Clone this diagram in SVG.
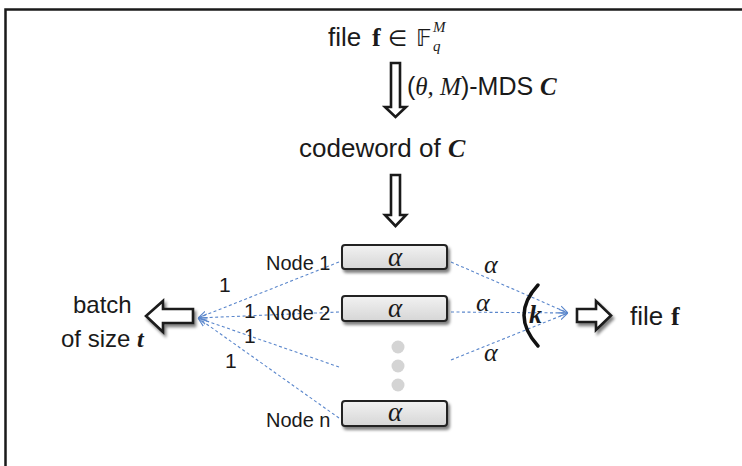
<svg xmlns="http://www.w3.org/2000/svg" width="742" height="466" viewBox="0 0 742 466">
<style>
.sans{font-family:"Liberation Sans","DejaVu Sans",sans-serif;fill:#1a1a1a}
.mi{font-family:"Liberation Serif","DejaVu Serif",serif;font-style:italic;fill:#1a1a1a}
.mb{font-family:"Liberation Serif","DejaVu Serif",serif;font-weight:bold;fill:#1a1a1a}
.mbi{font-family:"Liberation Serif","DejaVu Serif",serif;font-weight:bold;font-style:italic;fill:#1a1a1a}
.box{fill:url(#g);stroke:#222;stroke-width:2}
.conn{fill:none;stroke:#5b87cc;stroke-width:1.1;stroke-dasharray:3,2.5}
.block{fill:#fff;stroke:#1a1a1a;stroke-width:2.6;stroke-linejoin:miter}
.dot{fill:#d4d4d4}
</style>
<defs>
<linearGradient id="g" x1="0" y1="0" x2="0" y2="1">
<stop offset="0" stop-color="#f2f2f2"/>
<stop offset="1" stop-color="#d6d6d6"/>
</linearGradient>
<filter id="sh" x="-10%" y="-30%" width="130%" height="180%">
<feGaussianBlur in="SourceAlpha" stdDeviation="1.5"/>
<feOffset dx="2" dy="3" result="o"/>
<feComponentTransfer><feFuncA type="linear" slope="0.5"/></feComponentTransfer>
<feMerge><feMergeNode/><feMergeNode in="SourceGraphic"/></feMerge>
</filter>
<marker id="ah" viewBox="0 0 10 10" refX="10" refY="5" markerWidth="9" markerHeight="9" markerUnits="userSpaceOnUse" orient="auto">
<path d="M0,1 L10,5 L0,9" fill="none" stroke="#5b87cc" stroke-width="1.2"/>
</marker>
</defs>
<rect width="742" height="466" fill="#fff"/>
<!-- frame -->
<path d="M5.5,466 V9.5 H742" fill="none" stroke="#1a1a1a" stroke-width="2.5"/>

<!-- top text -->
<g id="file-top">
<text class="sans" x="328" y="46" font-size="26">file</text>
<text class="mb" x="372" y="46" font-size="26">f</text>
<text x="388" y="46" font-size="22" font-family="DejaVu Sans,sans-serif" fill="#1a1a1a">∈</text>
<text x="416" y="46" font-size="23" font-family="DejaVu Sans,sans-serif" fill="#1a1a1a">𝔽</text>
<text class="mi" x="433" y="32" font-size="15">M</text>
<text class="mi" x="433" y="51" font-size="15">q</text>
</g>

<g id="mds-label">
<text x="407" y="95" font-size="25"><tspan class="sans">(</tspan><tspan class="mi">θ</tspan><tspan class="mi">, M</tspan><tspan class="sans">)-MDS </tspan><tspan class="mbi">C</tspan></text>
</g>

<g id="codeword">
<text x="299" y="157" font-size="26"><tspan class="sans">codeword of </tspan><tspan class="mbi">C</tspan></text>
</g>

<!-- down arrows -->
<g id="arrow-down-1"><path class="block" d="M391,63 H400 V107 H406 L395.5,117 L385,107 H391 Z" stroke-width="1.7"/></g>
<g id="arrow-down-2"><path class="block" d="M391,175 H400 V215 H406 L395.5,226 L385,215 H391 Z" stroke-width="1.7"/></g>

<!-- connectors -->
<g id="connectors">
<line class="conn" x1="339" y1="262" x2="198" y2="318" marker-end="url(#ah)"/>
<line class="conn" x1="339" y1="312" x2="198" y2="318" marker-end="url(#ah)"/>
<line class="conn" x1="339" y1="367" x2="198" y2="318" marker-end="url(#ah)"/>
<line class="conn" x1="339" y1="418" x2="198" y2="318" marker-end="url(#ah)"/>
<line class="conn" x1="451" y1="262" x2="568" y2="313" marker-end="url(#ah)"/>
<line class="conn" x1="451" y1="312" x2="568" y2="313" marker-end="url(#ah)"/>
<line class="conn" x1="451" y1="360" x2="568" y2="313" marker-end="url(#ah)"/>
</g>

<!-- nodes -->
<g id="node1">
<rect class="box" x="342" y="245" width="105" height="24" rx="3" filter="url(#sh)"/>
<text class="mi" x="395" y="266" font-size="27" text-anchor="middle">α</text>
<text class="sans" x="266" y="270" font-size="20">Node 1</text>
</g>
<g id="node2">
<rect class="box" x="342" y="296" width="105" height="25" rx="3" filter="url(#sh)"/>
<text class="mi" x="395" y="317" font-size="27" text-anchor="middle">α</text>
<text class="sans" x="266" y="320" font-size="20">Node 2</text>
</g>
<g id="dots">
<circle class="dot" cx="398" cy="347" r="6.5"/>
<circle class="dot" cx="398" cy="366" r="6.5"/>
<circle class="dot" cx="398" cy="385" r="6.5"/>
</g>
<g id="noden">
<rect class="box" x="342" y="401" width="105" height="25" rx="3" filter="url(#sh)"/>
<text class="mi" x="395" y="421" font-size="27" text-anchor="middle">α</text>
<text class="sans" x="266" y="427" font-size="20">Node n</text>
</g>

<!-- edge labels -->
<g id="labels-1">
<text class="sans" x="219" y="292" font-size="21">1</text>
<text class="sans" x="244" y="318" font-size="21">1</text>
<text class="sans" x="244" y="343" font-size="21">1</text>
<text class="sans" x="225" y="368" font-size="21">1</text>
</g>
<g id="labels-alpha">
<text class="mi" x="484" y="273" font-size="26">α</text>
<text class="mi" x="476" y="311" font-size="26">α</text>
<text class="mi" x="484" y="361" font-size="26">α</text>
</g>

<!-- k bracket -->
<g id="k-group">
<path d="M538,285 Q510,315 538,346" fill="none" stroke="#111" stroke-width="3.4" stroke-linecap="round"/>
<text class="mbi" x="529" y="323" font-size="26">k</text>
</g>

<!-- batch -->
<g id="batch">
<path class="block" d="M193,309 V323 H163 V332 L146,316 L163,301 V309 Z" filter="url(#sh)"/>
<text class="sans" x="73" y="313" font-size="24">batch</text>
<text x="61" y="347" font-size="24"><tspan class="sans">of size </tspan><tspan class="mbi">t</tspan></text>
</g>

<!-- file f output -->
<g id="file-out">
<path class="block" d="M577,309 H596 V301 L611,315.5 L596,330 V322 H577 Z" filter="url(#sh)"/>
<text class="sans" x="630" y="325" font-size="26">file</text>
<text class="mb" x="671" y="325" font-size="26">f</text>
</g>
</svg>
